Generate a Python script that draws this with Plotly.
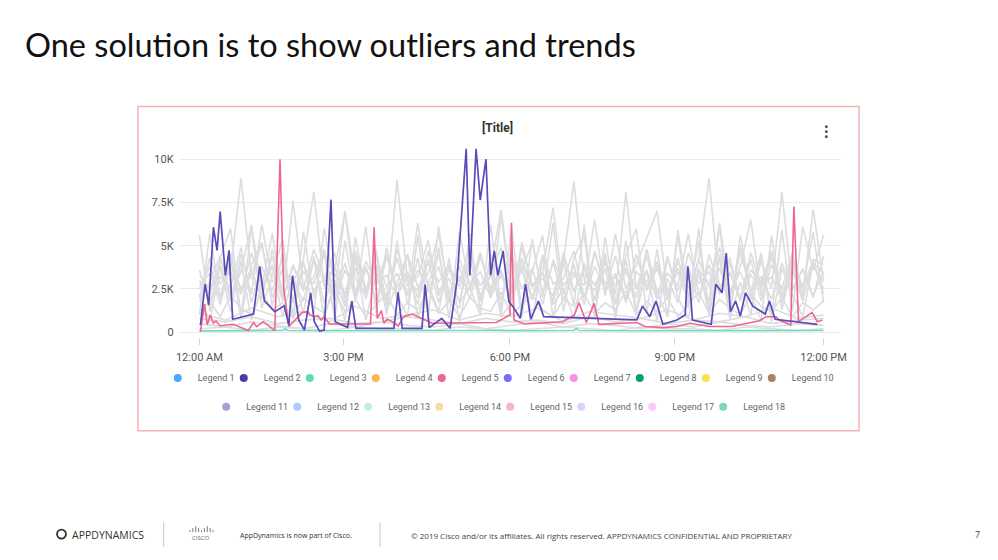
import plotly.graph_objects as go

W, H = 998, 560

# ---------------- data ----------------
TICK_VALS = [0, 27.7, 59.7, 91.4, 120]
TICK_TEXT = ["12:00 AM", "3:00 PM", "6:00 PM", "9:00 PM", "12:00 PM"]
Y_TICK_VALS = [0, 2.5, 5, 7.5, 10]
Y_TICK_TEXT = ["0", "2.5K", "5K", "7.5K", "10K"]

TIME_GRID = [0, 2, 4, 6, 8, 10, 12, 14, 16, 18,
             20, 22, 24, 26, 28, 30, 32, 34, 36, 38,
             40, 42, 44, 46, 48, 50, 52, 54, 56, 58,
             60, 62, 64, 66, 68, 70, 72, 74, 76, 78,
             80, 82, 84, 86, 88, 90, 92, 94, 96, 98,
             100, 102, 104, 106, 108, 110, 112, 114, 116, 118,
             120]
LOW_GRID = [0, 5, 10, 15, 20, 25, 30, 35, 40, 45, 50, 55, 60,
            65, 70, 75, 80, 85, 90, 95, 100, 105, 110, 115, 120]

# values in thousands
legend_1 = [3.0, 2.2, 4.1, 3.5, 8.9, 3.2, 2.0, 4.4, 1.8, 3.9,
            2.5, 4.8, 3.1, 2.2, 4.0, 1.9, 3.6, 2.8, 4.5, 2.1,
            3.3, 1.6, 4.2, 2.9, 3.8, 1.7, 2.6, 4.6, 2.3, 3.5,
            1.9, 4.9, 2.7, 3.4, 1.8, 4.1, 8.7, 3.0, 2.4, 4.3,
            1.6, 3.7, 2.5, 4.4, 2.0, 3.1, 1.7, 4.6, 2.8, 3.5,
            2.2, 4.0, 1.9, 3.3, 2.6, 4.7, 2.1, 3.6, 1.8, 4.2,
            3.9]
legend_4 = [2.5, 3.8, 1.9, 4.6, 2.4, 3.3, 5.1, 2.0, 3.7, 2.9,
            4.2, 8.1, 2.6, 3.9, 1.7, 4.4, 2.3, 3.6, 1.5, 4.8,
            2.7, 3.2, 5.3, 2.1, 3.9, 2.6, 4.3, 1.8, 3.4, 4.9,
            2.2, 3.6, 1.9, 4.5, 2.8, 3.1, 4.7, 2.0, 3.8, 2.5,
            4.4, 1.7, 3.5, 2.9, 4.1, 2.3, 3.7, 1.9, 4.3, 8.9,
            2.4, 3.5, 1.8, 4.6, 2.7, 3.2, 1.9, 4.4, 2.6, 3.8,
            2.9]
legend_6 = [3.6, 1.8, 3.2, 2.6, 4.9, 1.7, 3.8, 2.4, 4.3, 1.9,
            3.5, 2.8, 4.6, 2.0, 7.0, 3.1, 2.2, 4.5, 1.8, 8.8,
            3.0, 2.4, 4.1, 1.7, 3.6, 2.9, 4.8, 2.1, 3.3, 1.9,
            4.4, 2.5, 3.7, 1.6, 4.2, 2.7, 3.5, 2.0, 4.7, 2.3,
            3.4, 1.8, 4.5, 2.6, 3.9, 2.1, 4.3, 1.7, 3.6, 2.8,
            4.9, 2.2, 3.5, 1.9, 4.1, 2.5, 8.1, 2.4, 3.7, 2.0,
            4.4]
legend_7 = [1.8, 2.9, 4.4, 2.1, 3.5, 6.2, 2.4, 3.8, 1.9, 7.6,
            2.6, 4.1, 1.7, 3.4, 2.2, 4.7, 2.5, 3.9, 1.8, 4.3,
            2.1, 3.6, 2.8, 4.5, 1.9, 3.2, 2.4, 4.6, 2.0, 3.3,
            1.7, 4.2, 2.6, 3.5, 1.8, 4.4, 2.3, 3.7, 2.7, 4.0,
            2.2, 8.1, 2.5, 3.6, 1.9, 4.3, 2.4, 3.8, 1.7, 4.5,
            2.6, 3.4, 2.0, 4.2, 1.8, 3.9, 2.5, 4.6, 2.1, 7.1,
            3.0]
legend_8 = [2.7, 3.4, 1.6, 4.0, 2.5, 3.7, 1.9, 4.8, 2.3, 3.0,
            1.8, 4.2, 2.9, 3.6, 7.0, 2.1, 3.8, 1.7, 4.4, 2.6,
            3.5, 2.0, 4.7, 2.4, 3.1, 1.8, 4.0, 2.7, 3.6, 7.1,
            2.5, 4.3, 1.9, 3.5, 7.2, 2.2, 3.9, 1.6, 4.6, 2.8,
            3.2, 2.0, 4.5, 2.4, 3.7, 1.9, 4.1, 2.6, 3.3, 1.8,
            6.3, 2.3, 3.8, 6.5, 2.1, 4.4, 1.7, 3.6, 2.7, 4.1,
            2.2]
legend_9 = [3.3, 2.5, 3.9, 1.8, 4.5, 2.2, 6.2, 2.9, 3.6, 1.7,
            4.0, 2.4, 3.1, 4.6, 2.0, 3.7, 1.9, 4.3, 2.6, 3.4,
            2.1, 6.3, 2.5, 3.8, 1.7, 4.2, 2.8, 3.5, 2.0, 6.7,
            2.4, 3.6, 5.2, 2.2, 4.0, 1.9, 3.3, 2.7, 6.5, 2.1,
            5.7, 2.5, 3.9, 5.4, 7.0, 2.3, 3.5, 1.8, 4.2, 2.6,
            3.7, 2.0, 4.6, 2.4, 3.2, 1.9, 4.0, 2.5, 3.6, 2.1,
            3.5]
legend_10 = [2.0, 4.3, 2.8, 3.5, 2.2, 4.6, 2.6, 5.7, 1.9, 3.8,
             2.4, 3.2, 4.8, 1.8, 3.6, 2.3, 4.1, 2.9, 3.3, 2.0,
             4.5, 2.6, 3.4, 5.7, 2.2, 3.8, 1.9, 4.4, 2.5, 3.6,
             1.8, 5.2, 2.7, 3.1, 2.1, 4.6, 2.4, 3.7, 1.9, 4.2,
             2.6, 3.5, 2.0, 4.8, 2.3, 3.4, 2.7, 5.7, 2.1, 3.9,
             2.4, 4.3, 1.8, 3.6, 2.9, 4.5, 2.2, 3.8, 2.0, 4.0,
             3.4]
legend_11 = [2.2, 0.6, 3.8, 1.2, 4.1, 0.7, 2.6, 3.9, 0.9, 3.3,
             1.1, 4.4, 0.8, 3.0, 1.5, 4.2, 0.7, 3.4, 1.2, 2.9,
             4.5, 0.8, 2.8, 1.2, 4.3, 0.6, 3.6, 1.9, 4.1, 0.9,
             1.7, 3.9, 0.7, 4.3, 1.6, 2.5, 0.8, 4.0, 1.8, 3.7,
             0.9, 4.2, 1.1, 3.6, 0.6, 4.4, 2.0, 0.8, 3.7, 1.1,
             4.3, 0.8, 2.9, 1.0, 4.5, 0.6, 3.7, 2.2, 0.9, 4.0,
             2.5]
legend_12 = [1.2, 1.8, 0.9, 2.1, 1.4, 1.0, 2.3, 1.3, 1.7, 0.8,
             2.0, 1.5, 1.1, 2.4, 1.2, 1.9, 0.9, 1.6, 2.2, 1.0,
             1.7, 1.3, 2.5, 1.1, 1.8, 0.9, 2.0, 1.4, 1.2, 2.3,
             1.0, 1.6, 2.1, 1.3, 0.9, 1.9, 1.5, 2.2, 1.1, 1.7,
             1.3, 2.4, 1.0, 1.8, 1.2, 2.0, 0.9, 1.6, 2.3, 1.1,
             1.9, 1.4, 1.0, 2.2, 1.5, 1.2, 2.0, 0.9, 1.7, 1.3,
             1.8]
legend_13 = [5.6, 1.2, 4.3, 6.0, 0.9, 3.9, 5.2, 1.5, 4.7, 0.8,
             5.8, 2.0, 4.6, 0.7, 5.3, 1.9, 6.1, 1.1, 4.9, 2.2,
             0.9, 5.6, 1.3, 4.9, 0.8, 5.8, 2.6, 1.0, 6.2, 1.4,
             4.8, 0.9, 5.4, 2.0, 6.3, 1.2, 4.3, 5.6, 0.8, 5.5,
             1.7, 4.4, 6.0, 1.1, 4.8, 0.9, 5.9, 2.0, 5.3, 1.3,
             6.2, 1.0, 5.6, 2.3, 4.6, 0.9, 5.9, 1.2, 6.1, 3.6,
             5.6]
legend_14 = [1.0, 5.7, 2.0, 4.4, 0.8, 6.1, 1.4, 3.2, 5.4, 0.9,
             4.1, 1.1, 6.0, 2.7, 0.7, 5.5, 2.3, 4.8, 1.0, 5.3,
             1.6, 4.3, 0.9, 6.1, 2.0, 1.4, 5.7, 1.2, 4.5, 0.9,
             6.1, 1.2, 3.5, 5.6, 0.8, 4.0, 1.6, 6.2, 1.0, 4.6,
             0.8, 5.3, 1.2, 4.8, 2.3, 0.9, 5.6, 1.4, 6.0, 0.9,
             4.5, 1.0, 5.0, 2.2, 0.7, 5.6, 1.3, 4.1, 2.5, 5.8,
             1.7]
legend_15 = [0.5, 0.3, 0.6, 0.4, 0.2, 0.5, 0.3, 0.6, 0.4, 0.3, 0.5, 0.2, 0.4,
             0.6, 0.3, 0.5, 0.4, 0.2, 0.5, 0.3, 0.6, 0.4, 0.3, 0.5, 0.4]
legend_16 = [0.2, 0.3, 0.1, 0.3, 0.2, 0.1, 0.3, 0.2, 0.2, 0.1, 0.3, 0.2, 0.1,
             0.2, 0.3, 0.2, 0.1, 0.3, 0.2, 0.2, 0.1, 0.3, 0.2, 0.1, 0.2]
legend_17 = [0.8, 0.6, 0.9, 0.5, 0.7, 0.8, 0.5, 0.6, 0.9, 0.7, 0.5, 0.8, 0.6,
             0.7, 0.5, 0.9, 0.6, 0.8, 0.5, 0.7, 0.6, 0.9, 0.5, 0.7, 0.8]
legend_18 = [1.1, 0.7, 1.4, 0.9, 1.2, 0.6, 1.5, 0.8, 1.0, 1.3, 0.7, 1.1, 0.9,
             1.4, 0.6, 1.2, 1.0, 0.8, 1.3, 0.7, 1.1, 0.9, 1.4, 0.8, 1.0]

legend_2_x = [0.2, 1.1, 1.8, 2.7, 3.4, 4.0, 5.0, 5.7, 6.4, 10.4,
              11.6, 12.5, 14.5, 16.3, 17.2, 17.9, 19.1, 20.2, 21.4, 22.1,
              23.1, 24.0, 25.3, 26.1, 28.5, 29.3, 30.1, 37.4, 38.2, 39.0,
              42.8, 43.4, 44.2, 46.6, 48.2, 49.5, 51.3, 52.0, 53.2, 54.0,
              55.1, 56.0, 56.7, 57.4, 58.4, 59.5, 60.3, 61.7, 62.7, 63.7,
              65.2, 66.2, 84.1, 85.2, 86.6, 87.8, 89.1, 91.8, 93.4, 93.9,
              94.3, 94.8, 98.4, 99.3, 100.5, 101.3, 102.1, 103.1, 104.0, 105.0,
              106.4, 108.8, 109.6, 110.7, 118.8]
legend_2 = [0.42, 2.78, 1.57, 6.07, 4.73, 6.97, 3.29, 4.73, 0.75, 1.05,
            3.81, 1.82, 1.19, 1.53, 0.42, 3.26, 0.71, 0.13, 2.28, 0.61,
            0.07, 0.13, 7.66, 0.61, 0.27, 1.80, 0.23, 0.23, 2.30, 0.23,
            0.23, 2.76, 0.27, 0.80, 0.23, 2.91, 10.6, 3.29, 10.6, 7.64,
            10.0, 3.29, 4.70, 3.29, 4.70, 1.76, 1.48, 0.80, 2.78, 0.75,
            1.80, 0.90, 0.71, 1.51, 0.90, 1.80, 0.46, 0.71, 1.00, 3.81,
            2.72, 0.71, 0.46, 2.78, 2.28, 4.58, 1.19, 1.80, 0.94, 2.28,
            1.51, 1.05, 1.80, 0.75, 0.46]

legend_5_x = [0.2, 1.0, 1.5, 2.1, 2.7, 3.2, 4.0, 6.5, 9.4, 10.4,
              11.0, 12.3, 14.5, 15.5, 16.2, 17.2, 19.8, 20.9, 21.2, 22.1,
              22.8, 23.4, 24.0, 25.0, 32.9, 33.6, 34.2, 35.0, 35.5, 36.1,
              37.1, 38.2, 39.3, 40.9, 44.7, 57.1, 59.7, 60.0, 60.5, 62.5,
              69.8, 72.1, 73.0, 74.4, 75.9, 76.8, 84.1, 85.7, 89.2, 91.8,
              94.3, 98.1, 102.3, 104.5, 107.7, 109.0, 110.9, 111.5, 113.7, 114.3,
              115.2, 117.8, 118.8, 119.8]
legend_5 = [0.04, 1.63, 0.42, 1.00, 0.52, 0.65, 0.38, 0.46, 0.10, 0.56,
            0.33, 0.61, 0.10, 10.0, 2.53, 0.33, 1.15, 1.19, 1.00, 0.90,
            0.96, 0.71, 0.90, 0.48, 0.48, 6.07, 0.80, 1.25, 0.52, 0.75,
            0.61, 0.36, 0.90, 1.05, 0.52, 0.56, 1.00, 6.32, 0.71, 0.48,
            0.61, 1.00, 1.71, 0.56, 1.67, 0.46, 0.56, 0.33, 0.27, 0.33,
            0.52, 0.33, 0.33, 0.48, 0.67, 0.90, 0.90, 0.71, 0.42, 7.26,
            0.61, 1.15, 0.61, 0.71]

legend_3_x = [0, 8, 16, 16.5, 17, 24, 32, 40, 48, 56,
              64, 72, 72.5, 73, 80, 88, 96, 104, 112, 120]
legend_3 = [0.08, 0.10, 0.10, 0.20, 0.10, 0.09, 0.10, 0.08, 0.10, 0.10,
            0.09, 0.10, 0.22, 0.10, 0.09, 0.10, 0.08, 0.10, 0.09, 0.10]

LEGEND_NAMES = ["Legend %d" % i for i in range(1, 19)]
LEGEND_COLORS = ["#4DA6FF", "#4A3DA8", "#5FD9BA", "#FDB64A", "#F06590",
                 "#7B6CF6", "#F591EE", "#0B9F6E", "#FBE04E", "#B07F68",
                 "#A89ED6", "#A9CFFC", "#BFEFE0", "#FDDAA2", "#F8B5C4",
                 "#D8D4FA", "#FACBF6", "#7FD9B8"]

# ---------------- helpers ----------------
def fx(p):
    return p / W

def fy(p):
    return 1 - p / H

GREY = "#DCDDDF"
FONT = "Roboto"

fig = go.Figure()

grey_sets = [
    (TIME_GRID, legend_1), (TIME_GRID, legend_4), (TIME_GRID, legend_6),
    (TIME_GRID, legend_7), (TIME_GRID, legend_8), (TIME_GRID, legend_9),
    (TIME_GRID, legend_10), (TIME_GRID, legend_11), (TIME_GRID, legend_12),
    (TIME_GRID, legend_13), (TIME_GRID, legend_14),
    (LOW_GRID, legend_15), (LOW_GRID, legend_16), (LOW_GRID, legend_17),
    (LOW_GRID, legend_18),
]
for xs, ys in grey_sets:
    fig.add_trace(go.Scatter(x=xs, y=ys, mode="lines",
                             line=dict(color=GREY, width=1.6),
                             showlegend=False, hoverinfo="skip"))

fig.add_trace(go.Scatter(x=legend_3_x, y=legend_3, mode="lines",
                         line=dict(color="#6FDBC0", width=1.6),
                         showlegend=False, hoverinfo="skip"))
fig.add_trace(go.Scatter(x=legend_5_x, y=legend_5, mode="lines",
                         line=dict(color="#F0668F", width=1.6),
                         showlegend=False, hoverinfo="skip"))
fig.add_trace(go.Scatter(x=legend_2_x, y=legend_2, mode="lines",
                         line=dict(color="#5A4CB8", width=1.7),
                         showlegend=False, hoverinfo="skip"))

# legend entries (round markers like the reference)
for i, (name, col) in enumerate(zip(LEGEND_NAMES, LEGEND_COLORS)):
    fig.add_trace(go.Scatter(x=[None], y=[None], mode="markers", name=name,
                             marker=dict(color=col, size=8, symbol="circle"),
                             legend="legend" if i < 10 else "legend2",
                             showlegend=True, hoverinfo="skip"))
    if i in (9, 17):
        # blank spacer so the last label of each row is not clipped
        fig.add_trace(go.Scatter(x=[None], y=[None], mode="markers", name=" ",
                                 marker=dict(color="rgba(0,0,0,0)", size=1),
                                 legend="legend" if i < 10 else "legend2",
                                 showlegend=True, hoverinfo="skip"))

legend_common = dict(orientation="h", xanchor="center", yanchor="middle",
                     font=dict(family=FONT, size=9, color="#666666"),
                     bgcolor="rgba(0,0,0,0)", itemwidth=30,
                     entrywidthmode="pixels", itemclick=False,
                     itemdoubleclick=False)

fig.update_layout(
    width=W, height=H, autosize=False,
    margin=dict(l=0, r=0, t=0, b=0),
    paper_bgcolor="white", plot_bgcolor="white",
    showlegend=True,
    legend=dict(legend_common, x=0.524, y=fy(380), entrywidth=21),
    legend2=dict(legend_common, x=0.529, y=fy(409), entrywidth=26),
    xaxis=dict(domain=[fx(178), fx(846)], range=[-4.0, 123.4],
               tickvals=TICK_VALS, ticktext=TICK_TEXT,
               showgrid=False, zeroline=False, showline=False,
               ticks="outside", ticklen=7, tickcolor="#D5D5D5", tickwidth=1,
               ticklabelstandoff=3,
               tickfont=dict(family=FONT, size=11, color="#555555"),
               fixedrange=True),
    yaxis=dict(domain=[fy(338.4), fy(146.1)], range=[-0.25, 10.8],
               tickvals=Y_TICK_VALS, ticktext=Y_TICK_TEXT,
               showgrid=True, gridcolor="#EBEBEB", gridwidth=1.2,
               zeroline=False, showline=False, ticks="",
               ticklabelstandoff=4,
               tickfont=dict(family=FONT, size=11, color="#555555"),
               fixedrange=True),
)

P = dict(xref="paper", yref="paper")
shapes = []
# chart panel border
shapes.append(dict(P, type="rect", x0=fx(137), x1=fx(864), y0=fy(433), y1=fy(107),
                   line=dict(color="#F4B3B3", width=1.5), layer="below"))
# kebab menu dots
for cy in (127.5, 132.5, 137.5):
    shapes.append(dict(P, type="circle", x0=fx(829.5), x1=fx(832.5),
                       y0=fy(cy + 1.5), y1=fy(cy - 1.5),
                       fillcolor="#555555", line=dict(width=0)))
# footer separators
for sx in (163, 381):
    shapes.append(dict(P, type="line", x0=fx(sx), x1=fx(sx), y0=fy(550), y1=fy(525),
                       line=dict(color="#C8C8C8", width=1)))
# AppDynamics logo ring
shapes.append(dict(P, type="circle", x0=fx(55.5), x1=fx(64.5), y0=fy(541.5), y1=fy(532.5),
                   line=dict(color="#333333", width=1.8)))
# Cisco logo bars
bar_h = [2, 4, 6, 4, 2, 4, 6, 4, 2]
for k, hgt in enumerate(bar_h):
    bx = 189.5 + k * 2.9
    shapes.append(dict(P, type="line", x0=fx(bx), x1=fx(bx), y0=fy(535), y1=fy(535 - hgt),
                       line=dict(color="#777777", width=1)))

annotations = [
    dict(P, text="One solution is to show outliers and trends", x=fx(21), y=fy(45),
         xanchor="left", yanchor="middle", showarrow=False,
         font=dict(family="Lato", size=32.5, color="#111111")),
    dict(P, text="<b>[Title]</b>", x=fx(500), y=fy(128), xanchor="center", yanchor="middle",
         showarrow=False, font=dict(family=FONT, size=12, color="#333333")),
    dict(P, text="APPDYNAMICS", x=fx(69), y=fy(537.5), xanchor="left", yanchor="middle",
         showarrow=False, font=dict(family="Open Sans", size=10.5, color="#333333")),
    dict(P, text="CISCO", x=fx(200.5), y=fy(541), xanchor="center", yanchor="middle",
         showarrow=False, font=dict(family="Open Sans", size=6, color="#666666")),
    dict(P, text="AppDynamics is now part of Cisco.", x=fx(238), y=fy(538), xanchor="left",
         yanchor="middle", showarrow=False,
         font=dict(family="Open Sans", size=7, color="#333333")),
    dict(P, text="\u00a9 2019 Cisco and/or its affiliates. All rights reserved. APPDYNAMICS CONFIDENTIAL AND PROPRIETARY",
         x=fx(410), y=fy(538), xanchor="left", yanchor="middle", showarrow=False,
         font=dict(family="Open Sans", size=8, color="#444444")),
    dict(P, text="7", x=fx(983), y=fy(537), xanchor="center", yanchor="middle",
         showarrow=False, font=dict(family="Open Sans", size=9, color="#444444")),
]

fig.update_layout(shapes=shapes, annotations=annotations)

fig.write_html("out.html", config={"responsive": False, "displayModeBar": False},
               post_script="document.body.style.margin='0px';")
